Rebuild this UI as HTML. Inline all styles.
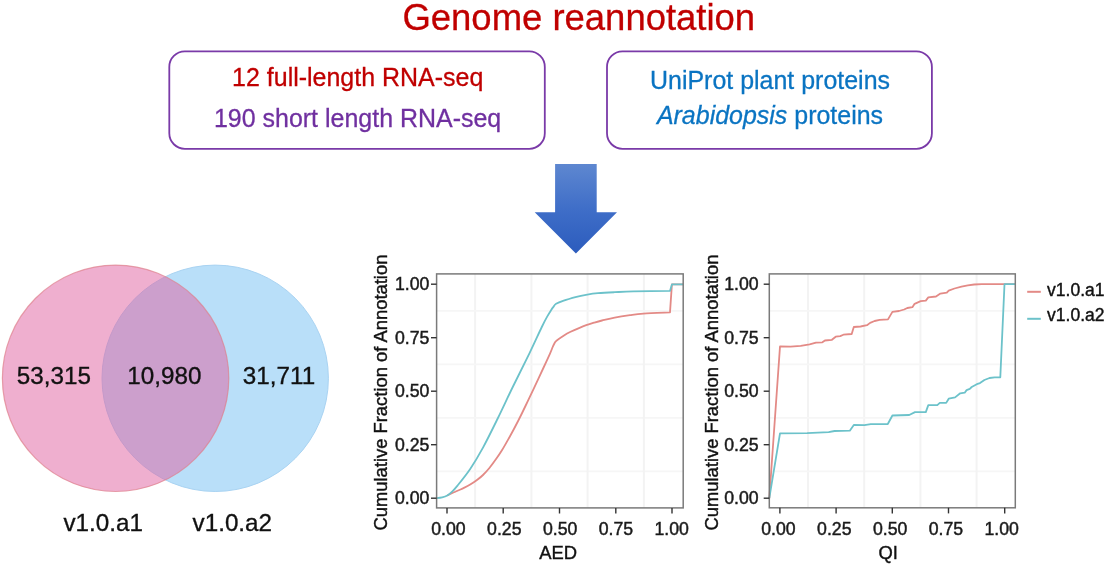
<!DOCTYPE html>
<html lang="en">
<head>
<meta charset="utf-8">
<title>Genome reannotation</title>
<style>
html,body{margin:0;padding:0;background:#fff;}
body{width:1112px;height:565px;overflow:hidden;font-family:"Liberation Sans",Arial,Helvetica,sans-serif;}
svg{display:block;}
text{font-family:"Liberation Sans",Arial,Helvetica,sans-serif;}
.title{font-size:37.8px;fill:#C00000;stroke:#C00000;stroke-width:0.3px;}
.bx{font-size:25.2px;stroke-width:0.3px;}
.vn{font-size:24.6px;fill:#111;stroke:#111;stroke-width:0.35px;}
.vl{font-size:24.6px;fill:#111;stroke:#111;stroke-width:0.35px;}
.tk{font-size:17.7px;fill:#1a1a1a;stroke:#1a1a1a;stroke-width:0.45px;}
.at{font-size:18.4px;fill:#111;stroke:#111;stroke-width:0.4px;}
.lg{font-size:17.8px;fill:#111;stroke:#111;stroke-width:0.4px;}
</style>
</head>
<body>
<svg width="1112" height="565" viewBox="0 0 1112 565">
<defs>
<linearGradient id="ag" x1="0" y1="0" x2="0" y2="1">
<stop offset="0" stop-color="#5E87D0"/>
<stop offset="0.5" stop-color="#3F6EC8"/>
<stop offset="1" stop-color="#2C5CBD"/>
</linearGradient>
</defs>
<rect width="1112" height="565" fill="#fff"/>
<text transform="translate(578.8 29.7) scale(0.965 1)" text-anchor="middle" class="title">Genome reannotation</text>

<rect x="169.3" y="51.4" width="375.5" height="97.4" rx="15.5" ry="15.5" fill="#fff" stroke="#7a3aa8" stroke-width="1.8"/>
<text transform="translate(357.7 85.6) scale(0.991 1)" text-anchor="middle" class="bx" fill="#C00000" stroke="#C00000">12 full-length RNA-seq</text>
<text transform="translate(357.6 126.6) scale(0.991 1)" text-anchor="middle" class="bx" fill="#7030A0" stroke="#7030A0">190 short length RNA-seq</text>

<rect x="607" y="51.4" width="324.9" height="97.4" rx="15.5" ry="15.5" fill="#fff" stroke="#7a3aa8" stroke-width="1.8"/>
<text transform="translate(770 89.2) scale(0.991 1)" text-anchor="middle" class="bx" fill="#0a74c2" stroke="#0a74c2">UniProt plant proteins</text>
<text transform="translate(770 123.9) scale(0.991 1)" text-anchor="middle" class="bx" fill="#0a74c2" stroke="#0a74c2"><tspan font-style="italic">Arabidopsis</tspan> proteins</text>

<path d="M555.1 164.1 H596.7 V212.3 H617 L575.9 253.4 L534.7 212.3 H555.1 Z" fill="url(#ag)"/>

<circle cx="215.2" cy="378.3" r="113.2" fill="#B9DFF9" stroke="#A9D3F2" stroke-width="1"/>
<circle cx="115.6" cy="378.3" r="113.2" fill="#E0609F" fill-opacity="0.5" stroke="#DE7F8C" stroke-opacity="0.7" stroke-width="1.2"/>
<text transform="translate(53.9 383.8) scale(0.985 1)" text-anchor="middle" class="vn">53,315</text>
<text transform="translate(164.4 383.8) scale(0.985 1)" text-anchor="middle" class="vn">10,980</text>
<text transform="translate(279 383.8) scale(0.985 1)" text-anchor="middle" class="vn">31,711</text>
<text transform="translate(103.2 531.2) scale(0.985 1)" text-anchor="middle" class="vl">v1.0.a1</text>
<text transform="translate(232.3 531.2) scale(0.985 1)" text-anchor="middle" class="vl">v1.0.a2</text>

<g>
<rect x="436.6" y="273.9" width="246.6" height="234.0" fill="#fff"/>
<line x1="475.1" x2="475.1" y1="273.9" y2="507.9" stroke="#f3f3f3" stroke-width="2"/>
<line x1="436.6" x2="683.2" y1="471.4" y2="471.4" stroke="#f6f6f6" stroke-width="1.8"/>
<line x1="531.4" x2="531.4" y1="273.9" y2="507.9" stroke="#f3f3f3" stroke-width="2"/>
<line x1="436.6" x2="683.2" y1="417.9" y2="417.9" stroke="#f6f6f6" stroke-width="1.8"/>
<line x1="587.6" x2="587.6" y1="273.9" y2="507.9" stroke="#f3f3f3" stroke-width="2"/>
<line x1="436.6" x2="683.2" y1="364.4" y2="364.4" stroke="#f6f6f6" stroke-width="1.8"/>
<line x1="643.9" x2="643.9" y1="273.9" y2="507.9" stroke="#f3f3f3" stroke-width="2"/>
<line x1="436.6" x2="683.2" y1="310.9" y2="310.9" stroke="#f6f6f6" stroke-width="1.8"/>
<path d="M447.3 495.5 C448.1 495.1 450.7 493.8 452.4 493.0 C454.1 492.2 455.6 491.7 457.5 490.8 C459.4 489.9 461.8 488.9 463.9 487.9 C466.0 486.9 468.1 485.9 470.2 484.6 C472.3 483.3 474.5 481.9 476.6 480.3 C478.7 478.7 480.9 477.1 483.0 475.0 C485.1 472.9 487.3 470.6 489.4 468.0 C491.5 465.4 493.6 462.6 495.7 459.6 C497.8 456.6 499.7 453.9 502.1 450.0 C504.5 446.1 507.3 441.0 510.0 436.2 C512.7 431.4 515.5 426.1 518.1 421.0 C520.7 415.9 523.2 410.8 525.7 405.5 C528.2 400.2 530.4 395.7 533.4 389.4 C536.4 383.1 540.8 373.5 543.6 367.5 C546.4 361.5 548.5 357.0 550.0 353.6 C551.5 350.2 551.9 348.9 552.7 347.0 C553.5 345.1 554.6 343.1 555.0 342.3 L555.0 342.3 C555.4 341.9 556.0 341.1 557.4 340.0 C558.8 338.9 561.4 337.1 563.6 335.7 C565.8 334.3 568.1 333.0 570.6 331.8 C573.1 330.6 575.8 329.4 578.4 328.3 C581.0 327.2 583.6 326.1 586.2 325.2 C588.8 324.3 591.4 323.5 594.0 322.7 C596.6 321.9 598.5 321.3 602.0 320.5 C605.5 319.7 610.0 318.6 614.7 317.7 C619.4 316.8 625.2 315.9 630.0 315.2 C634.8 314.5 636.8 314.1 643.5 313.6 C650.2 313.1 665.6 312.6 670.0 312.4 L670.0 312.4 L671.9 284.4 L683.2 284.3" fill="none" stroke="#E38A86" stroke-width="1.8" stroke-linejoin="round"/>
<path d="M436.5 498.1 C437.4 498.0 440.4 497.7 442.2 497.3 C444.0 496.9 445.6 496.5 447.3 495.5 C449.0 494.5 450.7 492.9 452.4 491.3 C454.1 489.7 454.5 489.3 457.5 485.6 C460.5 481.9 465.9 475.3 470.2 469.0 C474.4 462.7 478.4 456.0 483.0 447.6 C487.6 439.2 492.7 428.7 497.7 418.5 C502.7 408.3 507.7 397.3 513.0 386.5 C518.3 375.7 524.5 363.5 529.3 353.6 C534.1 343.7 538.8 333.2 541.8 327.0 C544.8 320.8 545.7 319.2 547.3 316.4 C548.9 313.6 550.2 311.6 551.2 310.0 C552.2 308.4 553.1 307.3 553.5 306.8 L553.5 306.8 C553.9 306.3 554.4 304.8 556.1 303.8 C557.8 302.8 560.3 301.8 563.7 300.6 C567.1 299.4 572.8 297.8 576.5 296.8 C580.2 295.8 582.4 295.4 586.0 294.8 C589.6 294.2 593.2 293.6 598.0 293.2 C602.8 292.8 608.8 292.5 614.7 292.2 C620.6 291.9 624.2 291.6 633.4 291.4 C642.6 291.2 663.9 291.0 670.0 290.9 L670.0 290.9 L671.9 284.4 L683.2 284.3" fill="none" stroke="#6CC2CA" stroke-width="1.8" stroke-linejoin="round"/>
<rect x="436.6" y="273.9" width="246.6" height="234.0" fill="none" stroke="#7a7a7a" stroke-width="1.5"/>
<line x1="447.0" x2="447.0" y1="507.9" y2="513.5" stroke="#333" stroke-width="1.4"/>
<text x="448.5" y="535" text-anchor="middle" class="tk">0.00</text>
<line x1="431.0" x2="436.6" y1="498.2" y2="498.2" stroke="#333" stroke-width="1.4"/>
<text x="429.4" y="504.4" text-anchor="end" class="tk">0.00</text>
<line x1="503.2" x2="503.2" y1="507.9" y2="513.5" stroke="#333" stroke-width="1.4"/>
<text x="504.3" y="535" text-anchor="middle" class="tk">0.25</text>
<line x1="431.0" x2="436.6" y1="444.7" y2="444.7" stroke="#333" stroke-width="1.4"/>
<text x="429.4" y="450.9" text-anchor="end" class="tk">0.25</text>
<line x1="559.5" x2="559.5" y1="507.9" y2="513.5" stroke="#333" stroke-width="1.4"/>
<text x="560.2" y="535" text-anchor="middle" class="tk">0.50</text>
<line x1="431.0" x2="436.6" y1="391.2" y2="391.2" stroke="#333" stroke-width="1.4"/>
<text x="429.4" y="397.4" text-anchor="end" class="tk">0.50</text>
<line x1="615.8" x2="615.8" y1="507.9" y2="513.5" stroke="#333" stroke-width="1.4"/>
<text x="616.0" y="535" text-anchor="middle" class="tk">0.75</text>
<line x1="431.0" x2="436.6" y1="337.7" y2="337.7" stroke="#333" stroke-width="1.4"/>
<text x="429.4" y="343.9" text-anchor="end" class="tk">0.75</text>
<line x1="672.0" x2="672.0" y1="507.9" y2="513.5" stroke="#333" stroke-width="1.4"/>
<text x="671.6" y="535" text-anchor="middle" class="tk">1.00</text>
<line x1="431.0" x2="436.6" y1="284.2" y2="284.2" stroke="#333" stroke-width="1.4"/>
<text x="429.4" y="290.4" text-anchor="end" class="tk">1.00</text>
<text x="558.2" y="559" text-anchor="middle" class="at">AED</text>
<text transform="translate(387.1,392.6) rotate(-90)" text-anchor="middle" class="at">Cumulative Fraction of Annotation</text>
</g>
<g>
<rect x="769.3" y="273.9" width="246.0" height="233.9" fill="#fff"/>
<line x1="808.0" x2="808.0" y1="273.9" y2="507.8" stroke="#f3f3f3" stroke-width="2"/>
<line x1="769.3" x2="1015.3" y1="471.4" y2="471.4" stroke="#f6f6f6" stroke-width="1.8"/>
<line x1="864.2" x2="864.2" y1="273.9" y2="507.8" stroke="#f3f3f3" stroke-width="2"/>
<line x1="769.3" x2="1015.3" y1="417.9" y2="417.9" stroke="#f6f6f6" stroke-width="1.8"/>
<line x1="920.4" x2="920.4" y1="273.9" y2="507.8" stroke="#f3f3f3" stroke-width="2"/>
<line x1="769.3" x2="1015.3" y1="364.4" y2="364.4" stroke="#f6f6f6" stroke-width="1.8"/>
<line x1="976.6" x2="976.6" y1="273.9" y2="507.8" stroke="#f3f3f3" stroke-width="2"/>
<line x1="769.3" x2="1015.3" y1="310.9" y2="310.9" stroke="#f6f6f6" stroke-width="1.8"/>
<path d="M769.3 498.2 L780.0 346.5 L790.5 346.6 L800.7 345.9 L809.6 344.4 L816.0 342.7 L822.4 342.3 L824.9 340.5 L831.9 339.8 L835.7 336.7 L840.2 336.1 L843.4 334.7 L851.7 334.0 L853.8 327.0 L860.6 326.5 L867.0 325.2 L870.1 322.9 L874.6 321.0 L879.7 319.8 L888.0 319.4 L892.4 311.9 L899.0 311.0 L904.1 309.5 L907.3 308.0 L912.4 307.2 L914.6 303.8 L920.7 301.2 L925.8 300.6 L928.3 297.4 L936.0 296.5 L940.4 293.6 L946.8 292.7 L948.7 290.6 L954.5 288.5 L961.5 286.6 L967.8 285.3 L974.2 284.5 L981.9 284.2 L1004.2 284.2 L1015.3 284.2" fill="none" stroke="#E38A86" stroke-width="1.8" stroke-linejoin="round"/>
<path d="M769.3 498.2 L780.0 433.4 L807.1 433.1 L828.7 432.2 L834.5 431.0 L849.8 430.7 L853.8 425.0 L864.4 425.2 L870.8 424.2 L887.8 424.0 L892.4 415.5 L909.2 415.0 L915.0 412.1 L925.8 412.1 L928.3 405.1 L937.3 405.1 L939.8 402.9 L946.2 402.9 L948.7 398.7 L955.1 397.4 L960.2 393.3 L964.7 392.7 L966.6 390.1 L969.8 388.9 L971.7 387.0 L976.8 384.2 L980.0 383.1 L984.4 380.0 L989.5 378.0 L994.6 377.3 L1000.3 377.3 L1004.5 284.2 L1015.3 284.2" fill="none" stroke="#6CC2CA" stroke-width="1.8" stroke-linejoin="round"/>
<rect x="769.3" y="273.9" width="246.0" height="233.9" fill="none" stroke="#7a7a7a" stroke-width="1.5"/>
<line x1="779.9" x2="779.9" y1="507.8" y2="513.4" stroke="#333" stroke-width="1.4"/>
<text x="778.5" y="535" text-anchor="middle" class="tk">0.00</text>
<line x1="763.7" x2="769.3" y1="498.2" y2="498.2" stroke="#333" stroke-width="1.4"/>
<text x="758.7" y="504.4" text-anchor="end" class="tk">0.00</text>
<line x1="836.1" x2="836.1" y1="507.8" y2="513.4" stroke="#333" stroke-width="1.4"/>
<text x="834.3" y="535" text-anchor="middle" class="tk">0.25</text>
<line x1="763.7" x2="769.3" y1="444.7" y2="444.7" stroke="#333" stroke-width="1.4"/>
<text x="758.7" y="450.9" text-anchor="end" class="tk">0.25</text>
<line x1="892.3" x2="892.3" y1="507.8" y2="513.4" stroke="#333" stroke-width="1.4"/>
<text x="890.2" y="535" text-anchor="middle" class="tk">0.50</text>
<line x1="763.7" x2="769.3" y1="391.2" y2="391.2" stroke="#333" stroke-width="1.4"/>
<text x="758.7" y="397.4" text-anchor="end" class="tk">0.50</text>
<line x1="948.5" x2="948.5" y1="507.8" y2="513.4" stroke="#333" stroke-width="1.4"/>
<text x="946.0" y="535" text-anchor="middle" class="tk">0.75</text>
<line x1="763.7" x2="769.3" y1="337.7" y2="337.7" stroke="#333" stroke-width="1.4"/>
<text x="758.7" y="343.9" text-anchor="end" class="tk">0.75</text>
<line x1="1004.7" x2="1004.7" y1="507.8" y2="513.4" stroke="#333" stroke-width="1.4"/>
<text x="1001.6" y="535" text-anchor="middle" class="tk">1.00</text>
<line x1="763.7" x2="769.3" y1="284.2" y2="284.2" stroke="#333" stroke-width="1.4"/>
<text x="758.7" y="290.4" text-anchor="end" class="tk">1.00</text>
<text x="888.2" y="559" text-anchor="middle" class="at">QI</text>
<text transform="translate(717.5,392.6) rotate(-90)" text-anchor="middle" class="at">Cumulative Fraction of Annotation</text>
</g>

<line x1="1027.2" x2="1040.8" y1="291.8" y2="291.8" stroke="#E38A86" stroke-width="2"/>
<text transform="translate(1047.1 296.4) scale(0.985 1)" class="lg">v1.0.a1</text>
<line x1="1027.2" x2="1040.8" y1="318.8" y2="318.8" stroke="#6CC2CA" stroke-width="2"/>
<text transform="translate(1047.1 320.8) scale(0.985 1)" class="lg">v1.0.a2</text>
</svg>
</body>
</html>
